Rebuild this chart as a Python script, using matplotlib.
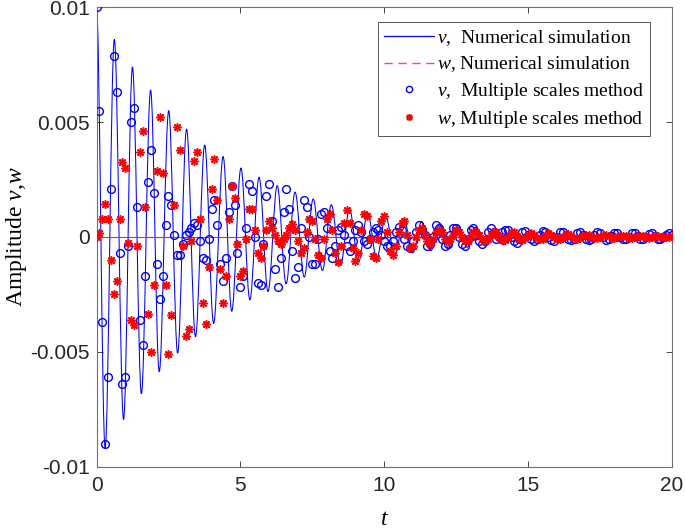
import matplotlib
matplotlib.use('Agg')
import matplotlib.pyplot as plt
import numpy as np
from matplotlib.path import Path
from matplotlib.patches import PathPatch
from matplotlib.lines import Line2D

plt.rcParams['font.family'] = 'Liberation Sans'
plt.rcParams['mathtext.fontset'] = 'custom'
plt.rcParams['mathtext.rm'] = 'Liberation Serif'
plt.rcParams['mathtext.it'] = 'Liberation Serif:italic'

# ---- data ----
# v, numerical simulation: extrema of the oscillation (time, value)
v_num_t = [0.00, 0.30, 0.62, 0.94, 1.25, 1.56, 1.88, 2.18, 2.51, 2.82,
           3.13, 3.44, 3.76, 4.07, 4.40, 4.70, 5.02, 5.33, 5.65, 5.96,
           6.28, 6.59, 6.90, 7.22, 7.53, 7.85, 8.16, 8.48, 8.79, 9.11,
           9.42, 9.74, 10.05, 10.37, 10.68, 10.99, 11.30, 11.62, 11.93, 12.25,
           12.56, 12.88, 13.19, 13.50, 13.82, 14.13, 14.45, 14.76, 15.08, 15.39,
           15.71, 16.02, 16.34, 16.65, 16.96, 17.28, 17.59, 17.91, 18.22, 18.53,
           18.85, 19.16, 19.48, 19.79, 20.00]
v_num = [0.0100, -0.0092, 0.0086, -0.00795, 0.0074, -0.00683, 0.0064, -0.00587, 0.0055, -0.00506,
         0.0047, -0.00435, 0.0040, -0.00377, 0.0035, -0.00324, 0.0030, -0.00274, 0.0026, -0.00238,
         0.00223, -0.00204, 0.00195, -0.00175, 0.00165, -0.00146, 0.0014, -0.00125, 0.0012, -0.00108,
         0.00105, -0.00093, 0.0009, -0.0008, 0.00078, -0.00069, 0.00067, -0.0006, 0.00058, -0.00052,
         0.0005, -0.00045, 0.00043, -0.00039, 0.00037, -0.00034, 0.00032, -0.00029, 0.00027, -0.00025,
         0.00024, -0.00022, 0.0002, -0.00019, 0.00018, -0.00016, 0.00015, -0.00014, 0.00013, -0.00012,
         0.00011, -0.0001, 0.0001, -0.00009, 0.00004]

# w, numerical simulation (flat at zero)
w_num_t = [0, 20]
w_num = [0, 0]

# multiple scales method, sampled every 0.1
t_ms = np.round(np.arange(201) * 0.1, 1)
v_ms = [0.0100, 0.0055, -0.0037, -0.0090, -0.0061, 0.0021, 0.0079, 0.0063, -0.0007, -0.0064,
        -0.0061, -0.0004, 0.0050, 0.0056, 0.0013, -0.0036, -0.0047, -0.0017, 0.0024, 0.0038,
        0.0019, -0.0012, -0.0027, -0.0017, 0.0005, 0.0018, 0.0014, 0.0001, -0.0008, -0.0008,
        -0.0003, 0.0001, 0.0002, 0.0004, 0.0006, 0.0005, -0.0002, -0.0009, -0.0010, -0.0001,
        0.0012, 0.0016, 0.0005, -0.0012, -0.0019, -0.0009, 0.0011, 0.0022, 0.0014, -0.0007,
        -0.0022, -0.0017, 0.0004, 0.0023, 0.0020, 0.0000, -0.0020, -0.0021, -0.0003, 0.0018,
        0.0023, 0.0007, -0.0014, -0.0022, -0.0009, 0.0011, 0.0021, 0.0012, -0.0006, -0.0018,
        -0.0013, 0.0004, 0.0016, 0.0013, 0.0000, -0.0012, -0.0012, -0.0001, 0.0010, 0.0011,
        0.0004, -0.0006, -0.0009, -0.0004, 0.0003, 0.00045, 0.0001, -0.0004, -0.0006, -0.0002,
        0.0003, 0.0005, 0.0002, -0.0002, -0.0003, -0.0001, 0.0002, 0.0004, 0.0003, 0.0001,
        -0.0002, -0.0004, -0.0004, -0.0002, 0.0002, 0.00045, 0.0003, -0.0001, -0.0004, -0.0005,
        -0.0002, 0.0002, 0.0005, 0.0003, 0.0001, -0.0004, -0.0003, 0.0000, 0.0005, 0.0004,
        -0.0001, -0.0004, -0.0003, 0.0001, 0.0004, 0.0004, 0.0000, -0.0003, -0.0004, -0.0001,
        0.0003, 0.0004, 0.0001, -0.0002, -0.0003, -0.0002, 0.0002, 0.0004, 0.0002, -0.0001,
        0.0000, 0.0002, 0.0003, 0.0003, 0.0000, -0.0002, -0.00025, -0.0001, 0.0002, 0.00025,
        0.0001, -0.0001, -0.0002, -0.0001, 0.0001, 0.00025, 0.0002, 0.0000, -0.00015, -0.0002,
        0.0000, 0.0002, 0.0002, 0.0001, -0.0001, -0.00015, -0.0001, 0.00015, 0.0002, 0.0001,
        -0.0001, -0.00015, -0.0001, 0.0001, 0.0002, 0.00015, 0.0000, -0.00012, -0.0001, 0.00005,
        0.00018, 0.00015, 0.0000, -0.0001, -0.0001, 0.0000, 0.00015, 0.00015, 0.00005, -0.0001,
        -0.0001, 0.0000, 0.00012, 0.00015, 0.00005, -0.00008, -0.0001, 0.0000, 0.0001, 0.00015,
        0.0001]
w_ms = [0.0000, 0.00015, 0.0008, 0.00143, 0.0008, -0.0010, -0.0025, -0.0019, 0.0008, 0.00328,
        0.0030, -0.00027, -0.0036, -0.00385, -0.0004, 0.0037, 0.0046, 0.0013, -0.00335, -0.0050,
        -0.0021, 0.00286, 0.00523, 0.0028, -0.0021, -0.0051, -0.0034, 0.0014, 0.0048, 0.0038,
        -0.0004, -0.0043, -0.0040, -0.0002, 0.0033, 0.0037, 0.0008, -0.0029, -0.0038, -0.0013,
        0.0021, 0.0034, 0.0016, -0.0014, -0.0029, -0.0017, 0.0008, 0.0022, 0.0017, -0.0003,
        -0.0017, -0.0015, -0.0001, 0.0012, 0.0012, 0.0003, -0.0007, -0.0009, -0.0004, 0.0003,
        0.0007, 0.0004, 0.0001, -0.0002, -0.0003, -0.0001, 0.0001, 0.0004, 0.00055, 0.0003,
        -0.0002, -0.0007, -0.0005, 0.0002, 0.0008, 0.0007, -0.0001, -0.0008, -0.0009, -0.0001,
        0.0008, 0.0010, 0.0003, -0.0007, -0.0011, -0.0004, 0.0006, 0.00117, 0.0006, -0.0005,
        -0.00105, -0.0007, 0.0003, 0.0010, 0.0009, -0.0001, -0.00085, -0.0009, -0.0001, 0.0007,
        0.0009, 0.0002, -0.0006, -0.0008, -0.0004, 0.0002, 0.0006, 0.0007, 0.0001, -0.0005,
        -0.0004, 0.0000, 0.0003, 0.0004, 0.0001, -0.0002, -0.0003, -0.0001, 0.0002, 0.0003,
        0.0002, -0.0001, -0.0002, -0.0001, 0.0001, 0.0003, 0.0002, 0.0000, -0.0002, -0.0002,
        0.0000, 0.0002, 0.0002, 0.0001, -0.0001, -0.0002, -0.0001, 0.0001, 0.0002, 0.0002,
        0.0000, -0.00015, -0.00015, 0.0000, 0.00015, 0.0002, 0.00005, -0.0001, -0.00015, -0.00005,
        0.0001, 0.00015, 0.0001, -0.00005, -0.0001, -0.0001, 0.00005, 0.00015, 0.0001, 0.0000,
        -0.0001, -0.0001, 0.0000, 0.0001, 0.00012, 0.00005, -0.00005, -0.00008, -0.00005, 0.00005,
        0.0001, 0.00008, 0.0000, -0.00005, -0.00005, 0.0000, 0.00008, 0.00008, 0.00002, -0.00004,
        -0.00005, 0.0000, 0.00005, 0.00006, 0.00002, -0.00003, -0.00004, 0.0000, 0.00004, 0.00005,
        0.00002, -0.00002, -0.00003, 0.0000, 0.00003, 0.00004, 0.00001, -0.00002, -0.00002, 0.0000,
        0.00002]

x_ticks = [0, 5, 10, 15, 20]
y_ticks = [-0.01, -0.005, 0, 0.005, 0.01]
y_tick_labels = ['-0.01', '-0.005', '0', '0.005', '0.01']
legend_labels = ['$v$,  Numerical simulation', '$w$, Numerical simulation',
                 '$v$,  Multiple scales method', '$w$, Multiple scales method']

fig = plt.figure(figsize=(6.85, 5.29), dpi=100)
ax = fig.add_axes([96.5 / 685, 1 - 466.5 / 529, 575.5 / 685, 459.2 / 529])

# smooth line through the extrema (horizontal tangent at each extremum)
c = 0.364
verts = [(v_num_t[0], v_num[0])]
codes = [Path.MOVETO]
for i in range(len(v_num_t) - 1):
    t0, t1 = v_num_t[i], v_num_t[i + 1]
    a, b = v_num[i], v_num[i + 1]
    h = t1 - t0
    verts += [(t0 + c * h, a), (t1 - c * h, b), (t1, b)]
    codes += [Path.CURVE4] * 3
ax.add_patch(PathPatch(Path(verts, codes), facecolor='none', edgecolor='#0000ff',
                       lw=0.75, zorder=2))

ax.plot(w_num_t, w_num, color='#ff2020', lw=0.8, zorder=2.5)
ax.plot(t_ms, v_ms, ls='none', marker='o', ms=5.6, mfc='none', mec='#0000ff',
        mew=1.0, zorder=3)
ax.plot(t_ms, w_ms, ls='none', marker=(8, 2, 0), ms=6, color='#ff0000',
        mew=1.1, zorder=4)

ax.set_xlim(0, 20)
ax.set_ylim(-0.01, 0.01)
ax.set_xticks(x_ticks)
ax.set_yticks(y_ticks)
ax.set_yticklabels(y_tick_labels)
ax.tick_params(direction='in', top=True, right=True, length=4.3, width=0.6,
               color='#262626', labelcolor='#262626', labelsize=15)
ax.tick_params(axis='x', pad=7)
ax.tick_params(axis='y', pad=5)
for sp in ax.spines.values():
    sp.set_color('#707070')
    sp.set_linewidth(0.8)

ax.set_xlabel('$t$', fontsize=17, labelpad=9)
ax.set_ylabel('Amplitude $v$,$w$', fontsize=17, family='Liberation Serif', labelpad=1)

handles = [Line2D([], [], color='#0000ff', lw=0.9),
           Line2D([], [], color='#ff5050', lw=1.0, ls=(0, (6, 4))),
           Line2D([], [], ls='none', marker='o', ms=4.5, mfc='none', mec='#0000ff', mew=1.0),
           Line2D([], [], ls='none', marker=(8, 2, 0), ms=5, color='#ff0000', mew=1.1)]
leg = ax.legend(handles, legend_labels, loc='upper right',
                bbox_to_anchor=(650 / 685, 1 - 22 / 529), bbox_transform=fig.transFigure,
                prop={'family': 'Liberation Serif', 'size': 14}, fancybox=False,
                framealpha=1, edgecolor='#555555', borderpad=0.3, labelspacing=0.35,
                handlelength=2.6, handletextpad=0.15, borderaxespad=0)
leg.get_frame().set_linewidth(0.7)

fig.savefig('out.png', dpi=100)
